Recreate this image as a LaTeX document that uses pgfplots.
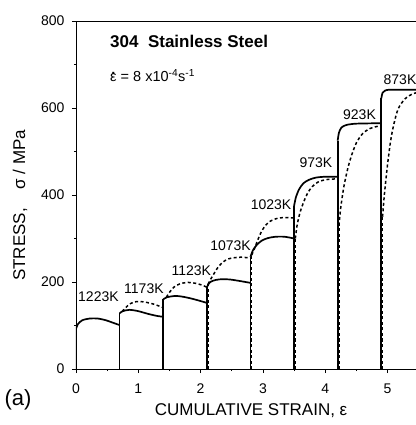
\documentclass[border=0pt]{standalone}
\usepackage{pgfplots}
\pgfplotsset{compat=1.18}
\usepackage{fontspec}
\setmainfont{Liberation Sans}
\newcommand{\epsdot}{{\setbox0\hbox{ε}\rlap{\hbox to\wd0{\hss\raisebox{0.5em}{\textbf{.}}\hss}}ε}}

\begin{document}
\begin{tikzpicture}
\path[use as bounding box] (-76pt,-56pt) rectangle (339pt,369pt);
\begin{axis}[
  at={(0pt,0pt)}, anchor=south west,
  scale only axis, width=342.7pt, height=348pt,
  xmin=0, xmax=5.5, ymin=0, ymax=800,
  clip mode=individual,
  xtick={0,1,2,3,4,5}, ytick={0,200,400,600,800},
  minor xtick={0.5,1.5,2.5,3.5,4.5}, minor ytick={100,300,500,700},
  xtick pos=left, ytick pos=left, tick align=outside,
  major tick length=4pt, minor tick length=2pt,
  axis line style={line width=0.8pt},
  every tick/.style={black, line width=0.6pt},
  /pgf/number format/assume math mode=true,
  ticklabel style={font=\fontsize{14}{16}\selectfont},
  yticklabel style={xshift=-4pt},
  xticklabel style={yshift=-7pt},
  xlabel={CUMULATIVE STRAIN, ε},
  ylabel={STRESS,\hspace{1.1em}σ / MPa},
  label style={font=\fontsize{17}{19}\selectfont},
  xlabel style={at={(axis description cs:0.511,-0.121)}, anchor=center},
  ylabel style={at={(axis description cs:-0.163,0.47)}, anchor=center},
  vert/.style={black, line width=1.7pt, sharp plot},
  solid/.style={black, line width=1.7pt, smooth, tension=0.45},
  dvert/.style={black, line width=1.5pt, dash pattern=on 3pt off 2.5pt, sharp plot},
  dsh/.style={black, line width=1.5pt, dash pattern=on 3pt off 2.5pt, smooth, tension=0.45},
]
% solid (experiment): loading lines
\addplot[vert] coordinates {(0,0)(0,92)};
\addplot[vert] coordinates {(0.7,0)(0.7,128)};
\addplot[vert] coordinates {(1.4,0)(1.4,160)};
\addplot[vert] coordinates {(2.1,0)(2.1,188)};
\addplot[vert] coordinates {(2.8,0)(2.8,258)};
\addplot[vert] coordinates {(3.5,0)(3.5,375)};
\addplot[vert] coordinates {(4.2,0)(4.2,525)};
\addplot[vert] coordinates {(4.9,0)(4.9,622)};
% solid (experiment): flow curves
\addplot[solid] coordinates {(0,92)(0.03,103)(0.1,112)(0.22,116)(0.35,116)(0.48,112)(0.6,106)(0.7,101)};
\addplot[solid] coordinates {(0.7,128)(0.75,133)(0.86,136)(1.0,133)(1.15,127)(1.3,122)(1.4,120)};
\addplot[solid] coordinates {(1.4,160)(1.46,165)(1.6,168)(1.72,166)(1.85,162)(1.98,157)(2.1,152)};
\addplot[solid] coordinates {(2.1,188)(2.14,198)(2.2,203)(2.3,206)(2.45,206)(2.6,203)(2.8,198)};
\addplot[solid] coordinates {(2.8,258)(2.84,273)(2.9,285)(2.98,295)(3.08,301)(3.2,304)(3.35,304)(3.5,300)};
\addplot[solid] coordinates {(3.5,375)(3.53,395)(3.58,413)(3.65,427)(3.74,435)(3.85,440)(4.0,442)(4.2,442)};
\addplot[solid] coordinates {(4.2,525)(4.22,543)(4.26,555)(4.34,561)(4.5,564)(4.9,565)};
\addplot[solid] coordinates {(4.9,622)(4.92,635)(4.96,640)(5.05,642)(5.5,642)};
% dashed (model)
\addplot[dsh] coordinates {(0.74,132)(0.79,140)(0.87,150)(0.97,155)(1.1,154)(1.25,149)(1.4,141)};
\addplot[dsh] coordinates {(1.45,165)(1.5,176)(1.57,188)(1.67,196)(1.8,199)(1.92,197)(2.02,193)(2.1,188)};
\addplot[dvert] coordinates {(2.12,0)(2.12,195)};
\addplot[dsh] coordinates {(2.12,195)(2.16,206)(2.21,218)(2.27,232)(2.33,242)(2.41,251)(2.5,255)(2.65,257)(2.8,255)};
\addplot[dvert] coordinates {(2.82,0)(2.82,262)};
\addplot[dsh] coordinates {(2.82,262)(2.86,275)(2.91,294)(2.97,314)(3.04,330)(3.12,340)(3.25,347)(3.4,348)(3.5,347)};
\addplot[dvert] coordinates {(3.52,0)(3.52,300)};
\addplot[dsh] coordinates {(3.52,300)(3.55,332)(3.6,362)(3.66,386)(3.72,405)(3.79,419)(3.9,431)(4.05,436)(4.2,437)};
\addplot[dvert] coordinates {(4.22,0)(4.22,330)};
\addplot[dsh] coordinates {(4.22,330)(4.25,372)(4.3,420)(4.36,460)(4.42,490)(4.5,520)(4.6,541)(4.72,553)(4.9,560)};
\addplot[dvert] coordinates {(4.92,0)(4.92,350)};
\addplot[dsh] coordinates {(4.92,350)(4.95,402)(5.0,470)(5.05,525)(5.1,562)(5.17,598)(5.28,621)(5.41,633)(5.5,636)};
% annotations
\begin{scope}[every node/.style={font=\fontsize{14}{16}\selectfont}]
\node at (axis cs:0.36,166) {1223K};
\node at (axis cs:1.09,184) {1173K};
\node at (axis cs:1.85,226) {1123K};
\node at (axis cs:2.48,283) {1073K};
\node at (axis cs:3.13,377) {1023K};
\node at (axis cs:3.85,474) {973K};
\node at (axis cs:4.55,584) {923K};
\node at (axis cs:5.2,664) {873K};
\end{scope}
\node[anchor=west, inner sep=0pt, font=\bfseries\fontsize{17}{19}\selectfont] at (axis cs:0.546,752) {304\ \ Stainless Steel};
\node[anchor=west, inner sep=0pt, font=\fontsize{14.5}{16}\selectfont] at (axis cs:0.546,674) {\epsdot{} = 8 x10\textsuperscript{-4}s\textsuperscript{-1}};
\node[font=\fontsize{22}{24}\selectfont] at (axis description cs:-0.169,-0.089) {(a)};
\end{axis}
\end{tikzpicture}
\end{document}
